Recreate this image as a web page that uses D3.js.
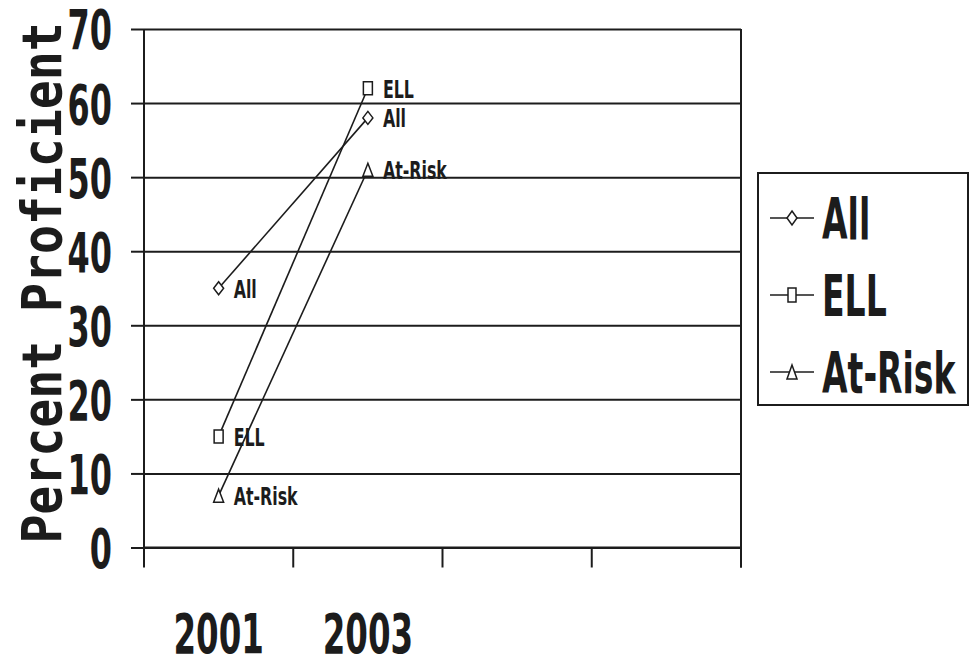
<!DOCTYPE html>
<html>
<head>
<meta charset="utf-8">
<script src="https://cdn.jsdelivr.net/npm/d3@7/dist/d3.min.js"></script>
<style>
  html, body { margin: 0; padding: 0; background: #ffffff; }
  svg { display: block; }
  text { fill: #1c1c1c; }
</style>
</head>
<body>
<svg id="chart" width="973" height="657"></svg>
<script>
// ---------- data ----------
const categories = ["2001", "2003", "blank1", "blank2"];
const tickLabels = ["2001", "2003", "", ""];
const seriesNames = ["All", "ELL", "At-Risk"];
const allValues = [35, 58];
const ellValues = [15, 62];
const atRiskValues = [7, 51];
const yTicks = [0, 10, 20, 30, 40, 50, 60, 70];
const yTitleWords = ["Percent", "Proficient"];

const seriesValues = [allValues, ellValues, atRiskValues];
const markerTypes = ["diamond", "square", "triangle"];

// ---------- layout ----------
const svg = d3.select("#chart");
const plot = { left: 144, right: 741, top: 29, bottom: 547.5 };
const ink = "#1c1c1c";
const textFont = "'DejaVu Sans', sans-serif";

const x = d3.scaleBand().domain(categories).range([plot.left, plot.right]).padding(0);
const y = d3.scaleLinear().domain([0, 70]).range([plot.bottom, plot.top]);

function markerPath(type, w, h) {
  const hw = w / 2, hh = h / 2;
  if (type === "diamond") return `M0,${-hh}L${hw},0L0,${hh}L${-hw},0Z`;
  if (type === "square") return `M${-hw},${-hh}H${hw}V${hh}H${-hw}Z`;
  return `M0,${-hh}L${hw},${hh}H${-hw}Z`;
}

// ---------- gridlines ----------
svg.append("g")
  .attr("transform", `translate(${plot.left},0)`)
  .call(d3.axisLeft(y).tickValues(yTicks).tickSize(-(plot.right - plot.left)).tickFormat(""))
  .call(g => g.select(".domain").remove())
  .call(g => g.selectAll("line").attr("stroke", ink).attr("stroke-width", 2));

// right border
svg.append("line")
  .attr("x1", plot.right).attr("x2", plot.right)
  .attr("y1", y(70)).attr("y2", plot.bottom + 20)
  .attr("stroke", ink).attr("stroke-width", 2);

// ---------- y axis ----------
const yAxisG = svg.append("g")
  .attr("transform", `translate(${plot.left},0)`)
  .call(d3.axisLeft(y).tickValues(yTicks).tickSize(13).tickPadding(19).tickFormat(d3.format("d")));
yAxisG.select(".domain").remove();
yAxisG.selectAll("line").attr("stroke", ink).attr("stroke-width", 2);
yAxisG.selectAll("text")
  .attr("x", null).attr("dy", null)
  .attr("dominant-baseline", "central")
  .attr("transform", "translate(-32,1) scale(0.58,1)")
  .style("font-family", textFont).style("font-weight", "bold").style("font-size", "55px")
  .attr("fill", ink);
svg.append("line")
  .attr("x1", plot.left).attr("x2", plot.left)
  .attr("y1", y(70)).attr("y2", plot.bottom + 19)
  .attr("stroke", ink).attr("stroke-width", 2);

// ---------- x axis ----------
const boundaries = categories.map(c => x(c)).concat([x.range()[1]]);
svg.append("g").selectAll("line").data(boundaries).join("line")
  .attr("x1", d => d).attr("x2", d => d)
  .attr("y1", plot.bottom).attr("y2", plot.bottom + 20)
  .attr("stroke", ink).attr("stroke-width", 2);
svg.append("line")
  .attr("x1", plot.left).attr("x2", plot.right)
  .attr("y1", plot.bottom).attr("y2", plot.bottom)
  .attr("stroke", ink).attr("stroke-width", 2);

const xAxisG = svg.append("g")
  .attr("transform", `translate(0,${plot.bottom})`)
  .call(d3.axisBottom(x).tickSize(0).tickFormat((d, i) => tickLabels[i]));
xAxisG.select(".domain").remove();
xAxisG.selectAll("line").remove();
xAxisG.selectAll("text")
  .attr("y", null).attr("dy", null)
  .attr("transform", "translate(0,105) scale(0.58,1)")
  .style("font-family", textFont).style("font-weight", "bold").style("font-size", "56px")
  .attr("fill", ink);

// ---------- y title ----------
const title = svg.append("text")
  .attr("transform", "translate(61,283) rotate(-90) scale(0.875,1)")
  .attr("text-anchor", "middle")
  .style("font-family", "'DejaVu Sans Mono', monospace")
  .style("font-weight", "bold")
  .style("font-size", "55px")
  .attr("fill", ink);
title.selectAll("tspan").data(yTitleWords).join("tspan")
  .attr("dx", (d, i) => i === 0 ? 0 : 33)
  .text(d => d);

// ---------- series ----------
const line = d3.line().x((d, i) => x(categories[i]) + x.bandwidth() / 2).y(d => y(d));

seriesValues.forEach((vals, s) => {
  const g = svg.append("g");
  g.append("path")
    .attr("d", line(vals))
    .attr("fill", "none")
    .attr("stroke", ink)
    .attr("stroke-width", 1.6);
  g.selectAll("path.marker").data(vals).join("path")
    .attr("class", "marker")
    .attr("transform", (d, i) => `translate(${x(categories[i]) + x.bandwidth() / 2},${y(d)})`)
    .attr("d", markerPath(markerTypes[s], markerTypes[s] === "square" ? 9 : 10, 13))
    .attr("fill", "#fff")
    .attr("stroke", ink)
    .attr("stroke-width", 1.5);
  g.selectAll("text").data(vals).join("text")
    .attr("transform", (d, i) => `translate(${x(categories[i]) + x.bandwidth() / 2 + 15},${y(d) + 1}) scale(0.66,1)`)
    .attr("dominant-baseline", "central")
    .style("font-family", textFont).style("font-weight", "bold").style("font-size", "24px")
    .attr("fill", ink)
    .text(seriesNames[s]);
});

// ---------- legend ----------
const legend = svg.append("g");
legend.append("rect")
  .attr("x", 758).attr("y", 173).attr("width", 210).attr("height", 232)
  .attr("fill", "#fff").attr("stroke", ink).attr("stroke-width", 2);
const legendY = d3.scalePoint().domain(seriesNames).range([218, 372]);
const rows = legend.selectAll("g.row").data(seriesNames).join("g")
  .attr("class", "row")
  .attr("transform", d => `translate(0,${legendY(d)})`);
rows.append("line")
  .attr("x1", 770).attr("x2", 814).attr("y1", 0).attr("y2", 0)
  .attr("stroke", ink).attr("stroke-width", 1.6);
rows.append("path")
  .attr("transform", "translate(792,0)")
  .attr("d", (d, i) => markerPath(markerTypes[i], markerTypes[i] === "square" ? 8 : 10, 14))
  .attr("fill", "#fff").attr("stroke", ink).attr("stroke-width", 1.5);
rows.append("text")
  .attr("transform", "translate(822,21) scale(0.58,1)")
  .style("font-family", textFont).style("font-weight", "bold").style("font-size", "57px")
  .attr("fill", ink)
  .text(d => d);
</script>
</body>
</html>
